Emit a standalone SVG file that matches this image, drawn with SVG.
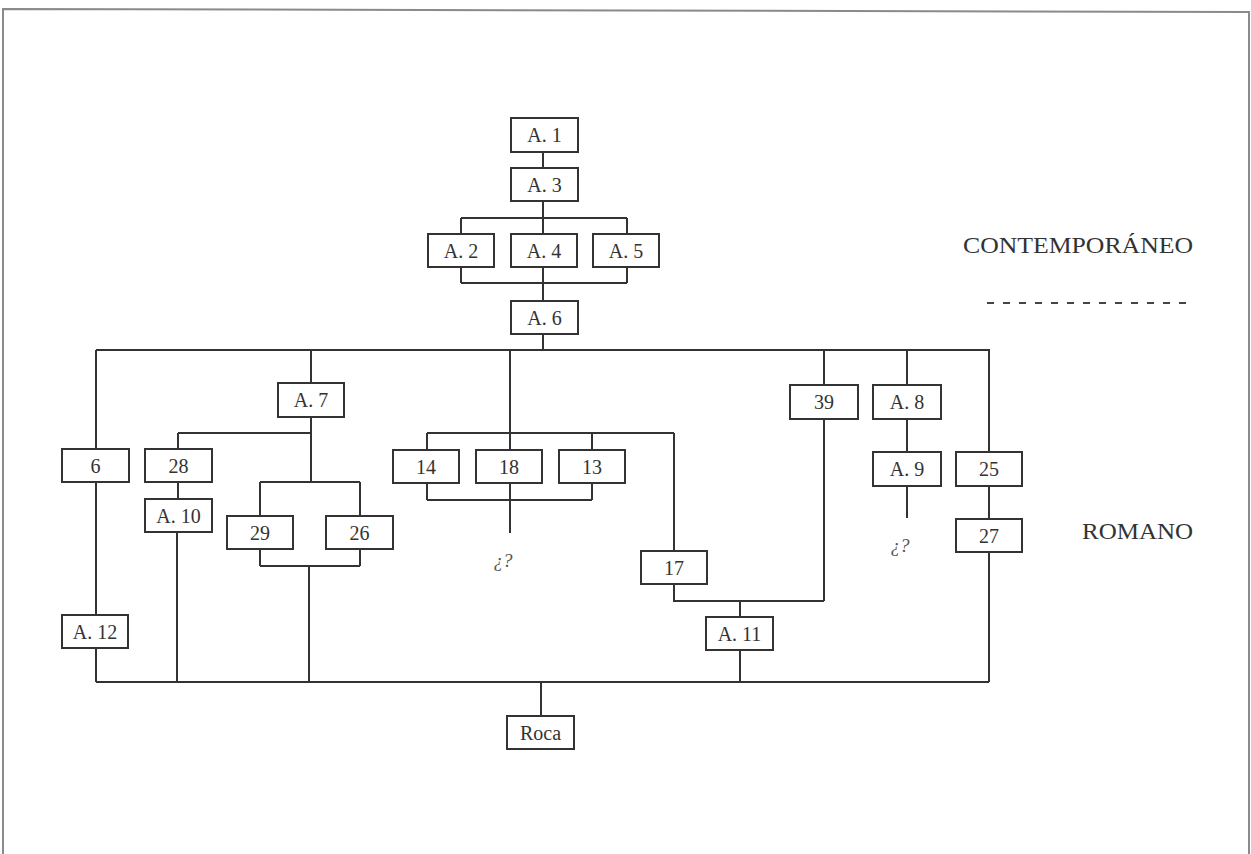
<svg xmlns="http://www.w3.org/2000/svg" width="1251" height="854" viewBox="0 0 1251 854">
<style>
.b{fill:#fff;stroke:#333;stroke-width:2}
.t{font-family:"Liberation Serif",serif;font-size:20px;fill:#333;text-anchor:middle}
.c{fill:none;stroke:#333;stroke-width:2}
.lbl{font-family:"Liberation Serif",serif;font-size:23px;fill:#333}
.q{font-family:"Liberation Serif",serif;font-size:19px;font-style:italic;fill:#555;text-anchor:middle}
</style>
<rect width="1251" height="854" fill="#fff"/>
<polyline points="3,856 3,9 1249,12 1249,856" fill="none" stroke="#8a8a8a" stroke-width="2"/>
<g id="connectors" class="c">
<path d="M543,152V168M543,201V218M461,218H627M461,218V234M543,218V234M627,218V234"/>
<path d="M461,267V283M627,267V283M461,283H627M543,267V301M543,334V350"/>
<path d="M96,350H990M96,350V449M311,350V383M510,350V450M824,350V385M907,350V385M989,350V452"/>
<path d="M96,482V615M96,648V682"/>
<path d="M311,417V482M178,433H311M178,433V449M178,482V499M177,532V682"/>
<path d="M260,482H360M260,482V516M360,482V516M260,549V566M360,549V566M260,566H360M309,566V682"/>
<path d="M427,433H674M427,433V450M592,433V450M674,433V551"/>
<path d="M427,483V500M592,483V500M427,500H592M510,483V533"/>
<path d="M674,584V601H824M824,419V601M740,601V617M740,650V682"/>
<path d="M907,419V452M907,486V518"/>
<path d="M989,486V519M989,552V682"/>
<path d="M96,682H989M541,682V716"/>
</g>
<g id="A1"><rect class="b" x="511" y="118" width="67" height="34"/><text class="t" x="544.5" y="142">A. 1</text></g>
<g id="A3"><rect class="b" x="511" y="168" width="67" height="33"/><text class="t" x="544.5" y="191.5">A. 3</text></g>
<g id="A2"><rect class="b" x="428" y="234" width="66" height="33"/><text class="t" x="461" y="257.5">A. 2</text></g>
<g id="A4"><rect class="b" x="511" y="234" width="66" height="33"/><text class="t" x="544" y="257.5">A. 4</text></g>
<g id="A5"><rect class="b" x="593" y="234" width="66" height="33"/><text class="t" x="626" y="257.5">A. 5</text></g>
<g id="A6"><rect class="b" x="511" y="301" width="67" height="33"/><text class="t" x="544.5" y="324.5">A. 6</text></g>
<g id="A7"><rect class="b" x="278" y="383" width="66" height="34"/><text class="t" x="311" y="407">A. 7</text></g>
<g id="n6"><rect class="b" x="62" y="449" width="67" height="33"/><text class="t" x="95.5" y="472.5">6</text></g>
<g id="n28"><rect class="b" x="145" y="449" width="67" height="33"/><text class="t" x="178.5" y="472.5">28</text></g>
<g id="A10"><rect class="b" x="145" y="499" width="67" height="33"/><text class="t" x="178.5" y="522.5">A. 10</text></g>
<g id="n29"><rect class="b" x="227" y="516" width="66" height="33"/><text class="t" x="260" y="539.5">29</text></g>
<g id="n26"><rect class="b" x="326" y="516" width="67" height="33"/><text class="t" x="359.5" y="539.5">26</text></g>
<g id="A12"><rect class="b" x="62" y="615" width="66" height="33"/><text class="t" x="95" y="638.5">A. 12</text></g>
<g id="n14"><rect class="b" x="393" y="450" width="66" height="33"/><text class="t" x="426" y="473.5">14</text></g>
<g id="n18"><rect class="b" x="476" y="450" width="66" height="33"/><text class="t" x="509" y="473.5">18</text></g>
<g id="n13"><rect class="b" x="559" y="450" width="66" height="33"/><text class="t" x="592" y="473.5">13</text></g>
<g id="q1"><text class="q" x="503" y="567">¿?</text></g>
<g id="n17"><rect class="b" x="641" y="551" width="66" height="33"/><text class="t" x="674" y="574.5">17</text></g>
<g id="n39"><rect class="b" x="790" y="385" width="68" height="34"/><text class="t" x="824" y="409">39</text></g>
<g id="A8"><rect class="b" x="873" y="385" width="68" height="34"/><text class="t" x="907" y="409">A. 8</text></g>
<g id="A9"><rect class="b" x="873" y="452" width="68" height="34"/><text class="t" x="907" y="476">A. 9</text></g>
<g id="q2"><text class="q" x="900" y="552">¿?</text></g>
<g id="n25"><rect class="b" x="956" y="452" width="66" height="34"/><text class="t" x="989" y="476">25</text></g>
<g id="n27"><rect class="b" x="956" y="519" width="66" height="33"/><text class="t" x="989" y="542.5">27</text></g>
<g id="A11"><rect class="b" x="706" y="617" width="67" height="33"/><text class="t" x="739.5" y="640.5">A. 11</text></g>
<g id="Roca"><rect class="b" x="507" y="716" width="67" height="33"/><text class="t" x="540.5" y="739.5">Roca</text></g>
<g id="labels">
<text class="lbl" x="963" y="253" textLength="230" lengthAdjust="spacingAndGlyphs">CONTEMPORÁNEO</text>
<line x1="987" y1="303" x2="1187" y2="303" stroke="#444" stroke-width="2" stroke-dasharray="7 9"/>
<text class="lbl" x="1082" y="539" textLength="111" lengthAdjust="spacingAndGlyphs">ROMANO</text>
</g>
</svg>
